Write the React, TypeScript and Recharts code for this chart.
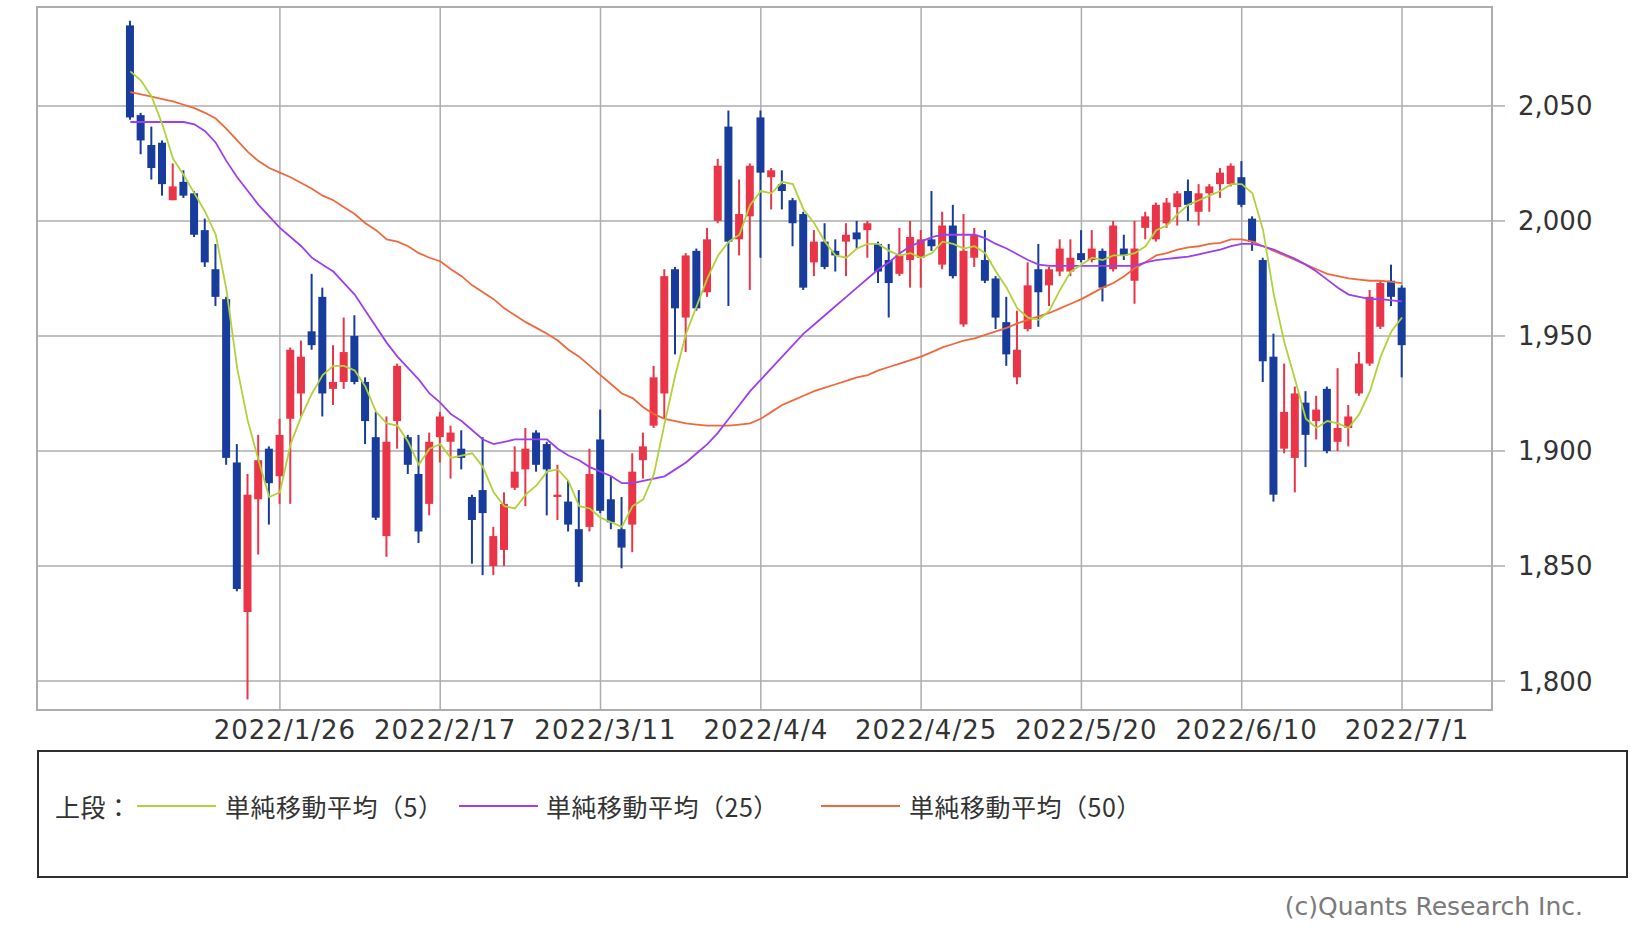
import React from "react";
import {
	Bar,
	CartesianGrid,
	ComposedChart,
	Line,
	ReferenceArea,
	XAxis,
	YAxis,
} from "recharts";

// trading days shown on the chart
const dates = [
	"2022/1/5", "2022/1/6", "2022/1/7", "2022/1/11", "2022/1/12", "2022/1/13", "2022/1/14", "2022/1/17", "2022/1/18", "2022/1/19",
	"2022/1/20", "2022/1/21", "2022/1/24", "2022/1/25", "2022/1/26", "2022/1/27", "2022/1/28", "2022/1/31", "2022/2/1", "2022/2/2",
	"2022/2/3", "2022/2/4", "2022/2/7", "2022/2/8", "2022/2/9", "2022/2/10", "2022/2/14", "2022/2/15", "2022/2/16", "2022/2/17",
	"2022/2/18", "2022/2/21", "2022/2/22", "2022/2/24", "2022/2/25", "2022/2/28", "2022/3/1", "2022/3/2", "2022/3/3", "2022/3/4",
	"2022/3/7", "2022/3/8", "2022/3/9", "2022/3/10", "2022/3/11", "2022/3/14", "2022/3/15", "2022/3/16", "2022/3/17", "2022/3/18",
	"2022/3/22", "2022/3/23", "2022/3/24", "2022/3/25", "2022/3/28", "2022/3/29", "2022/3/30", "2022/3/31", "2022/4/1", "2022/4/4",
	"2022/4/5", "2022/4/6", "2022/4/7", "2022/4/8", "2022/4/11", "2022/4/12", "2022/4/13", "2022/4/14", "2022/4/15", "2022/4/18",
	"2022/4/19", "2022/4/20", "2022/4/21", "2022/4/22", "2022/4/25", "2022/4/26", "2022/4/27", "2022/4/28", "2022/5/2", "2022/5/6",
	"2022/5/9", "2022/5/10", "2022/5/11", "2022/5/12", "2022/5/13", "2022/5/16", "2022/5/17", "2022/5/18", "2022/5/19", "2022/5/20",
	"2022/5/23", "2022/5/24", "2022/5/25", "2022/5/26", "2022/5/27", "2022/5/30", "2022/5/31", "2022/6/1", "2022/6/2", "2022/6/3",
	"2022/6/6", "2022/6/7", "2022/6/8", "2022/6/9", "2022/6/10", "2022/6/13", "2022/6/14", "2022/6/15", "2022/6/16", "2022/6/17",
	"2022/6/20", "2022/6/21", "2022/6/22", "2022/6/23", "2022/6/24", "2022/6/27", "2022/6/28", "2022/6/29", "2022/6/30", "2022/7/1",
];

const opens = [
	2085, 2046, 2033, 2034, 2009, 2017, 2012, 1996, 1979, 1966,
	1895, 1830, 1879, 1901, 1889, 1914, 1925, 1952, 1967, 1927,
	1930, 1950, 1930, 1906, 1863, 1913, 1906, 1890, 1877, 1906,
	1904, 1901, 1880, 1883, 1850, 1857, 1884, 1892, 1908, 1903,
	1880, 1878, 1866, 1867, 1905, 1879, 1866, 1868, 1896, 1911,
	1925, 1979, 1958, 1987, 1969, 2000, 2041, 1992, 2002, 2045,
	2019, 2016, 2009, 2003, 1982, 1991, 1987, 1991, 1995, 1996,
	1990, 1983, 1977, 1983, 1984, 1992, 1981, 1998, 1955, 1984,
	1983, 1975, 1956, 1932, 1953, 1979, 1972, 1978, 1978, 1986,
	1983, 1987, 1979, 1988, 1974, 1997, 1992, 1999, 2006, 2013,
	2004, 2012, 2016, 2016, 2019, 2001, 1983, 1941, 1901, 1897,
	1921, 1913, 1927, 1904, 1910, 1925, 1938, 1954, 1974, 1971,
];

const highs = [
	2087, 2047, 2041, 2035, 2025, 2022, 2013, 2001, 1990, 1967,
	1903, 1890, 1907, 1902, 1914, 1945, 1948, 1977, 1971, 1946,
	1958, 1959, 1932, 1917, 1915, 1938, 1907, 1907, 1908, 1917,
	1911, 1909, 1881, 1906, 1867, 1882, 1902, 1910, 1909, 1904,
	1894, 1887, 1883, 1901, 1918, 1889, 1880, 1899, 1908, 1937,
	1979, 1980, 1986, 1988, 1997, 2027, 2048, 2018, 2025, 2048,
	2023, 2022, 2010, 2004, 1996, 1999, 1992, 1999, 2000, 2000,
	1991, 1990, 1997, 2000, 1996, 2013, 2004, 2007, 2003, 1997,
	1996, 1976, 1967, 1961, 1982, 1990, 1980, 1992, 1992, 1996,
	1996, 1988, 2000, 1994, 2000, 2004, 2008, 2010, 2013, 2018,
	2016, 2016, 2023, 2025, 2026, 2002, 1984, 1951, 1938, 1928,
	1926, 1924, 1928, 1936, 1920, 1943, 1970, 1974, 1981, 1972,
];

const lows = [
	2044, 2029, 2018, 2011, 2009, 2010, 1993, 1980, 1963, 1894,
	1839, 1792, 1855, 1868, 1877, 1877, 1915, 1944, 1915, 1920,
	1927, 1929, 1903, 1870, 1854, 1901, 1890, 1860, 1872, 1895,
	1888, 1892, 1851, 1846, 1846, 1850, 1883, 1876, 1891, 1872,
	1870, 1865, 1841, 1865, 1873, 1866, 1849, 1856, 1888, 1910,
	1914, 1942, 1943, 1961, 1967, 1999, 1963, 1985, 1970, 1984,
	2005, 2005, 1989, 1970, 1976, 1979, 1978, 1976, 1988, 1984,
	1973, 1958, 1976, 1971, 1971, 1987, 1979, 1975, 1954, 1980,
	1973, 1953, 1937, 1929, 1952, 1954, 1963, 1976, 1976, 1982,
	1982, 1965, 1978, 1983, 1964, 1992, 1991, 1997, 1998, 2000,
	1998, 2004, 2010, 2015, 2006, 1987, 1930, 1878, 1899, 1882,
	1893, 1905, 1899, 1900, 1902, 1924, 1937, 1953, 1963, 1932,
];

const closes = [
	2045, 2035, 2023, 2016, 2015, 2011, 1994, 1982, 1967, 1897,
	1840, 1881, 1896, 1886, 1907, 1944, 1941, 1946, 1925, 1930,
	1943, 1930, 1913, 1871, 1904, 1937, 1894, 1865, 1904, 1915,
	1908, 1897, 1870, 1873, 1863, 1877, 1891, 1901, 1894, 1892,
	1881, 1868, 1843, 1890, 1874, 1869, 1858, 1891, 1902, 1932,
	1976, 1962, 1985, 1962, 1992, 2024, 1991, 2003, 2024, 2021,
	2022, 2013, 1999, 1971, 1991, 1980, 1985, 1994, 1992, 1999,
	1978, 1973, 1985, 1993, 1992, 1989, 1998, 1976, 1987, 1994,
	1974, 1958, 1942, 1944, 1972, 1969, 1979, 1988, 1984, 1983,
	1988, 1971, 1998, 1985, 1988, 2002, 2007, 2008, 2012, 2007,
	2012, 2015, 2021, 2024, 2007, 1991, 1939, 1881, 1917, 1925,
	1907, 1918, 1900, 1910, 1915, 1938, 1967, 1973, 1967, 1946,
];

// moving averages
const ma5 = [
	2065, 2061, 2054, 2042, 2027, 2020, 2012, 2004, 1994, 1970,
	1936, 1913, 1896, 1880, 1882, 1903, 1915, 1925, 1933, 1937,
	1937, 1935, 1928, 1917, 1912, 1911, 1904, 1894, 1901, 1903,
	1897, 1898, 1899, 1893, 1882, 1876, 1875, 1881, 1885, 1891,
	1892, 1887, 1876, 1875, 1871, 1869, 1867, 1876, 1879, 1890,
	1912, 1933, 1951, 1963, 1975, 1985, 1991, 1994, 2007, 2013,
	2012, 2017, 2016, 2005, 1999, 1991, 1985, 1984, 1988, 1990,
	1990, 1987, 1985, 1986, 1984, 1986, 1991, 1990, 1988, 1989,
	1986, 1978, 1971, 1962, 1958, 1957, 1961, 1970, 1978, 1981,
	1984, 1983, 1985, 1985, 1986, 1989, 1996, 1998, 2003, 2007,
	2009, 2011, 2013, 2016, 2016, 2012, 1996, 1968, 1947, 1931,
	1914, 1910, 1913, 1912, 1910, 1916, 1926, 1941, 1952, 1958,
];

const ma25 = [
	2043, 2043, 2043, 2043, 2043, 2043, 2042, 2039, 2034, 2026,
	2019, 2013, 2007, 2002, 1997, 1993, 1989, 1984, 1981, 1978,
	1973, 1968, 1961, 1954, 1947, 1941, 1936, 1931, 1925, 1921,
	1916, 1913, 1909, 1905, 1903, 1904, 1905, 1905, 1905, 1905,
	1901, 1898, 1896, 1893, 1891, 1889, 1886, 1886, 1887, 1888,
	1889, 1892, 1895, 1899, 1903, 1908, 1914, 1920, 1926, 1931,
	1936, 1941, 1946, 1951, 1955, 1959, 1963, 1967, 1971, 1975,
	1979, 1982, 1986, 1989, 1991, 1993, 1994, 1994, 1994, 1994,
	1992.5, 1990, 1988, 1985.5, 1983, 1981, 1980.5, 1980.5, 1980.5, 1980.5,
	1980.5, 1980.5, 1980.5, 1980.5, 1980.5, 1982, 1983, 1983.5, 1984, 1984.5,
	1985.5, 1986.5, 1987.5, 1989, 1990, 1990, 1989, 1987.5, 1985.5, 1983.5,
	1981, 1978, 1974.5, 1971, 1968, 1967, 1966, 1966, 1965.5, 1965,
];

const ma50 = [
	2056, 2055, 2054, 2053, 2052, 2050.5, 2049, 2047, 2044.5, 2040,
	2035, 2030, 2026, 2023, 2021, 2019, 2016.5, 2014, 2011, 2009,
	2006, 2003, 1999, 1996, 1992, 1991, 1989, 1986, 1984, 1982.5,
	1979, 1976, 1972, 1969, 1966, 1962, 1959, 1956, 1953.5, 1951,
	1948, 1944, 1941, 1937, 1933, 1929, 1925, 1923, 1919, 1916,
	1914, 1913, 1912, 1911.5, 1911, 1911, 1911, 1911.5, 1912, 1914,
	1917, 1920, 1922, 1924, 1926, 1927.5, 1929, 1930.5, 1932, 1933,
	1935, 1936.5, 1938, 1939.5, 1941, 1943, 1945, 1946.5, 1948, 1949,
	1950.5, 1952, 1953.5, 1955.5, 1957, 1958.5, 1960, 1962, 1964, 1966,
	1968.5, 1971, 1973, 1976, 1979.5, 1982, 1985, 1986, 1987.5, 1988.5,
	1989, 1990, 1990.5, 1992, 1992, 1991, 1989, 1987, 1985, 1983,
	1981, 1979, 1977, 1976, 1975, 1974.5, 1974, 1974, 1973.5, 1973,
];

const tickDates = ["2022/1/26", "2022/2/17", "2022/3/11", "2022/4/4", "2022/4/25", "2022/5/20", "2022/6/10", "2022/7/1"];
const priceTicks = [1800, 1850, 1900, 1950, 2000, 2050];

const UP = "#ea3548";
const DOWN = "#183c9c";
const C_MA5 = "#b0d23a";
const C_MA25 = "#9b3ff0";
const C_MA50 = "#f0683c";
const GRID = "#adadad";

const X_DOMAIN: [number, number] = [-8.73, 127.42];
const Y_DOMAIN: [number, number] = [1787.4, 2093];

const data = dates.map((d, i) => ({
	i,
	date: d,
	open: opens[i],
	high: highs[i],
	low: lows[i],
	close: closes[i],
	range: [lows[i], highs[i]],
	ma5: ma5[i],
	ma25: ma25[i],
	ma50: ma50[i],
}));

function Candle(props: any) {
	const { x, y, width, height, payload } = props;
	if (x == null || y == null || !payload) return null;
	const { open, close, high, low } = payload;
	const color = close >= open ? UP : DOWN;
	const top = Math.min(y, y + height);
	const h = Math.abs(height);
	const k = high === low ? 0 : h / (high - low);
	const yo = top + (high - open) * k;
	const yc = top + (high - close) * k;
	const cx = x + width / 2;
	const bodyTop = Math.min(yo, yc);
	const bodyH = Math.max(Math.abs(yo - yc), 2);
	return (
		<g>
			<line x1={cx} x2={cx} y1={top} y2={top + h} stroke={color} strokeWidth={2} />
			<rect x={cx - 4} y={bodyTop} width={8} height={bodyH} fill={color} />
		</g>
	);
}

function XTick({ x, y, payload }: any) {
	return (
		<text x={x + 5} y={y} dy={29} textAnchor="middle" fontSize={26} fill="#333" letterSpacing={1} fontFamily="DejaVu Sans">
			{dates[payload.value]}
		</text>
	);
}

function YTick({ x, y, payload }: any) {
	return (
		<text x={x} y={y} dy={9.5} textAnchor="start" fontSize={26} fill="#333" fontFamily="DejaVu Sans">
			{payload.value.toLocaleString("en-US")}
		</text>
	);
}

const legendText: React.CSSProperties = {
	position: "absolute",
	top: 791,
	height: 30,
	lineHeight: "30px",
	fontSize: 25,
	letterSpacing: 0.5,
	color: "#333",
	fontFamily: "'Noto Sans CJK JP', sans-serif",
	whiteSpace: "nowrap",
};

function LegendLine({ left, color }: { left: number; color: string }) {
	return <div style={{ position: "absolute", left, top: 805, width: 79, height: 2, background: color }} />;
}

export default function App() {
	return (
		<div style={{ position: "absolute", left: 0, top: 0, width: 1652, height: 939, background: "#fff", fontFamily: "DejaVu Sans" }}>
			<ComposedChart width={1652} height={750} data={data} margin={{ top: 7, right: 60, bottom: 0, left: 37 }}>
				<CartesianGrid stroke={GRID} strokeWidth={1.5} />
				<XAxis
					dataKey="i"
					type="number"
					domain={X_DOMAIN}
					allowDataOverflow
					ticks={tickDates.map((d) => dates.indexOf(d))}
					tick={<XTick />}
					tickLine={false}
					tickSize={0}
					tickMargin={0}
					axisLine={false}
					height={40}
					interval={0}
				/>
				<YAxis
					orientation="right"
					type="number"
					domain={Y_DOMAIN}
					allowDataOverflow
					ticks={priceTicks}
					tick={<YTick />}
					tickSize={13}
					tickMargin={13}
					tickLine={{ stroke: GRID, strokeWidth: 1.5 }}
					axisLine={false}
					width={100}
					interval={0}
				/>
				<ReferenceArea
					x1={X_DOMAIN[0]}
					x2={X_DOMAIN[1]}
					y1={Y_DOMAIN[0]}
					y2={Y_DOMAIN[1]}
					fill="none"
					stroke={GRID}
					strokeWidth={2}
				/>
				<Bar dataKey="range" barSize={8} shape={<Candle />} isAnimationActive={false} />
				<Line type="linear" dataKey="ma50" stroke={C_MA50} strokeWidth={1.8} dot={false} isAnimationActive={false} />
				<Line type="linear" dataKey="ma25" stroke={C_MA25} strokeWidth={1.8} dot={false} isAnimationActive={false} />
				<Line type="linear" dataKey="ma5" stroke={C_MA5} strokeWidth={1.8} dot={false} isAnimationActive={false} />
			</ComposedChart>

			<div
				style={{
					position: "absolute",
					left: 37,
					top: 750,
					width: 1591,
					height: 128,
					border: "2px solid #2e2e2e",
					boxSizing: "border-box",
				}}
			/>
			<div style={{ ...legendText, left: 55 }}>上段：</div>
			<LegendLine left={137} color={C_MA5} />
			<div style={{ ...legendText, left: 225 }}>単純移動平均（5）</div>
			<LegendLine left={459} color={C_MA25} />
			<div style={{ ...legendText, left: 546 }}>単純移動平均（25）</div>
			<LegendLine left={821} color={C_MA50} />
			<div style={{ ...legendText, left: 909 }}>単純移動平均（50）</div>

			<div
				style={{
					position: "absolute",
					right: 69,
					top: 892,
					height: 30,
					lineHeight: "30px",
					fontSize: 25,
					color: "#7a7a7a",
					fontFamily: "DejaVu Sans",
				}}
			>
				(c)Quants Research Inc.
			</div>
		</div>
	);
}
